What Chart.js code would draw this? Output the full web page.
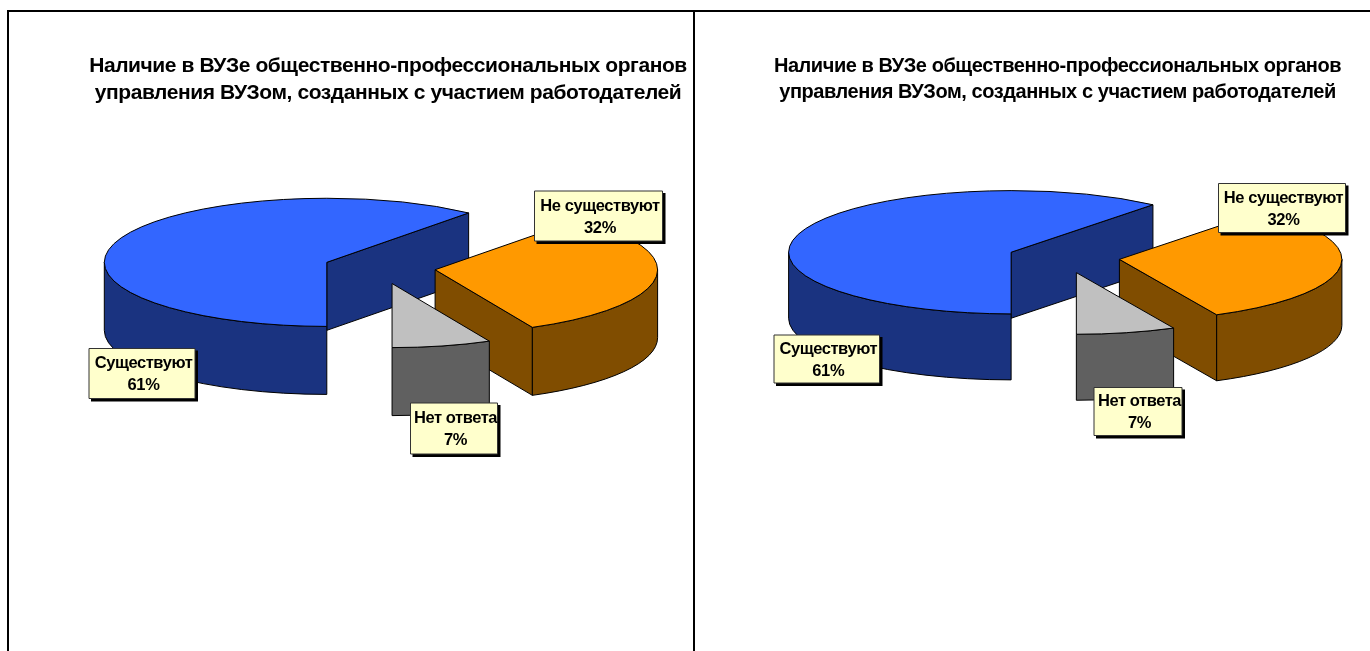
<!DOCTYPE html>
<html><head><meta charset="utf-8">
<script src="https://cdn.jsdelivr.net/npm/chart.js@4"></script>
<style>
html,body{margin:0;padding:0;background:#fff;width:1370px;height:651px;overflow:hidden}
canvas{position:absolute;top:0}
.rule{position:absolute;background:#000}
</style></head><body>
<div class="rule" style="left:7px;top:10px;width:1363px;height:2px"></div>
<div class="rule" style="left:7px;top:10px;width:2px;height:641px"></div>
<div class="rule" style="left:693px;top:10px;width:2px;height:641px"></div>
<div style="position:absolute;left:0;top:0;width:693px;height:651px"><canvas id="c1" style="left:0"></canvas></div>
<div style="position:absolute;left:695px;top:0;width:675px;height:651px"><canvas id="c2" style="left:0"></canvas></div>
<script>
const categories = ['Не существуют', 'Нет ответа', 'Существуют'];
const valuesLeft = [31.8, 7.2, 61];
const valuesRight = [31.8, 7.2, 61];
const titleLines = ['Наличие в ВУЗе общественно-профессиональных органов',
                    'управления ВУЗом, созданных с участием работодателей'];
const topColors = ['#ff9900', '#c0c0c0', '#3366ff'];
const wallColors = ['#804d00', '#606060', '#1a3380'];
const wallOrder = [2, 0, 1];

const panels = [
  {id:'c1', w:693, values:valuesLeft, font:21, ls:'-0.42px', lh:27, titleCx:388, titleTop:53,
   cy:267.8, k:0.288, depth:68, padL:66,
   boxes:[[534.5,191,128,50],[410.5,403,87,51],[89,348.5,106,50]]},
  {id:'c2', w:675, values:valuesRight, font:20, ls:'-0.44px', lh:26.5, titleCx:362.5, titleTop:53,
   cy:257.5, k:0.277, depth:66, padL:62.6,
   boxes:[[523.5,183.5,127,49],[399,387.5,88,48],[79,335,105.5,48]]}
];

const pie3d = {
  id:'pie3d',
  afterLayout(chart, args, o){
    const t = chart.titleBlock;
    const s = o.titleCx - (t.left + t.right) / 2;
    t.left += s; t.right += s;
  },
  afterDatasetsUpdate(chart, args, o){
    chart.getDatasetMeta(0).data.forEach(a => {
      const mid = (a.startAngle + a.endAngle) / 2;
      a.x += Math.cos(mid) * o.explode;
      a.y += Math.sin(mid) * o.explode;
    });
  },
  beforeDraw(chart, args, o){ chart.ctx.letterSpacing = o.ls; },
  beforeDatasetsDraw(chart, args, o){
    const ctx = chart.ctx, arcs = chart.getDatasetMeta(0).data;
    const project = a => ({x:a.x, y:o.cy + (a.y - o.cy) * o.k, r:a.outerRadius, ry:a.outerRadius * o.k});
    ctx.save();
    ctx.lineWidth = 1; ctx.strokeStyle = '#000'; ctx.lineJoin = 'round';
    wallOrder.forEach(i => {
      const a = arcs[i], p = project(a);
      ctx.fillStyle = wallColors[i];
      const a0 = a.startAngle, a1 = a.endAngle;
      const radial = ang => {
        ctx.beginPath();
        ctx.moveTo(p.x, p.y);
        ctx.lineTo(p.x + p.r * Math.cos(ang), p.y + p.ry * Math.sin(ang));
        ctx.lineTo(p.x + p.r * Math.cos(ang), p.y + p.ry * Math.sin(ang) + o.depth);
        ctx.lineTo(p.x, p.y + o.depth);
        ctx.closePath(); ctx.fill(); ctx.stroke();
      };
      if (Math.cos(a0) < -1e-6) radial(a0);
      if (Math.cos(a1) > 1e-6) radial(a1);
      for (let n = -1; n <= 1; n++) {
        const s = Math.max(a0, n * 2 * Math.PI), e = Math.min(a1, n * 2 * Math.PI + Math.PI);
        if (e > s) {
          ctx.beginPath();
          ctx.ellipse(p.x, p.y, p.r, p.ry, 0, s, e);
          ctx.ellipse(p.x, p.y + o.depth, p.r, p.ry, 0, e, s, true);
          ctx.closePath(); ctx.fill(); ctx.stroke();
        }
      }
    });
    ctx.restore();
    ctx.save();
    ctx.translate(0, o.cy); ctx.scale(1, o.k); ctx.translate(0, -o.cy);
  },
  afterDatasetsDraw(chart, args, o){
    const ctx = chart.ctx, arcs = chart.getDatasetMeta(0).data;
    ctx.restore();
    ctx.save();
    ctx.lineWidth = 1; ctx.strokeStyle = '#000'; ctx.lineJoin = 'round';
    arcs.forEach(a => {
      const y = o.cy + (a.y - o.cy) * o.k, ry = a.outerRadius * o.k;
      ctx.beginPath();
      ctx.moveTo(a.x, y);
      ctx.ellipse(a.x, y, a.outerRadius, ry, 0, a.startAngle, a.endAngle);
      ctx.closePath(); ctx.stroke();
    });
    o.boxes.forEach((b, i) => {
      const [x, y, w, h] = b;
      ctx.fillStyle = '#000';
      ctx.fillRect(x + 2, y + 2, w + 1, h + 1);
      ctx.fillStyle = '#ffffcc';
      ctx.fillRect(x, y, w, h);
      ctx.strokeStyle = '#333';
      ctx.strokeRect(x, y, w, h);
      ctx.fillStyle = '#000';
      ctx.font = 'bold 16.5px "Liberation Sans", Arial, sans-serif';
      ctx.letterSpacing = '-0.42px';
      ctx.textAlign = 'center'; ctx.textBaseline = 'middle';
      const cx = x + w / 2 + 1.5, cyy = y + h / 2 + 1;
      ctx.fillText(categories[i], cx, cyy - 11);
      ctx.fillText(Math.round(o.values[i]) + '%', cx, cyy + 11);
    });
    ctx.restore();
  }
};

panels.forEach(p => {
  const el = document.getElementById(p.id);
  el.width = p.w; el.height = 651;
  el.style.width = p.w + 'px'; el.style.height = '651px';
  const titleH = p.titleTop + 2 * p.lh;
  new Chart(el, {
    type:'pie',
    data:{labels:categories, datasets:[{data:p.values, backgroundColor:topColors, borderWidth:0, hoverOffset:0}]},
    options:{
      responsive:false, animation:false, events:[],
      rotation:39.6, radius:222.5,
      layout:{padding:{left:p.padL, right:0, top:0, bottom:651 - (2 * p.cy - titleH)}},
      plugins:{
        legend:{display:false}, tooltip:{enabled:false},
        title:{display:true, text:titleLines, color:'#000', align:'center',
               font:{family:'"Liberation Sans", Arial, sans-serif', size:p.font, weight:'bold', lineHeight:p.lh / p.font},
               padding:{top:p.titleTop, bottom:0}},
        pie3d:{explode:56, cy:p.cy, k:p.k, depth:p.depth, titleCx:p.titleCx, ls:p.ls, boxes:p.boxes, values:p.values}
      }
    },
    plugins:[pie3d]
  });
});
</script>
</body></html>
